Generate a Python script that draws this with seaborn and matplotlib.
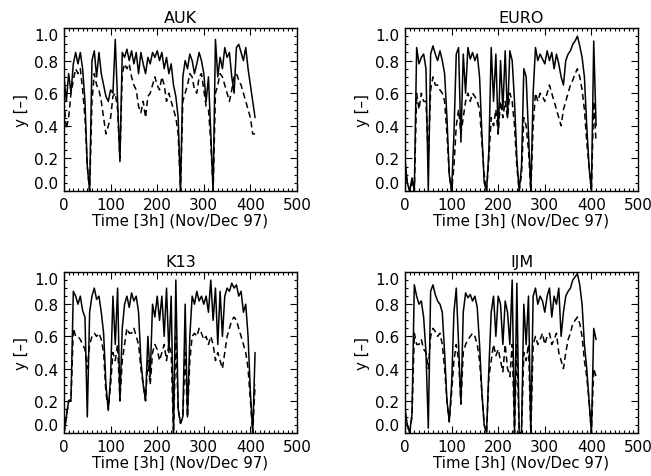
import numpy as np
import matplotlib
matplotlib.use("Agg")
import matplotlib.pyplot as plt
from matplotlib.ticker import MultipleLocator, FixedLocator
import seaborn as sns

# 3-hourly time index, Nov/Dec 1997
time_3h = np.arange(0, 411, 5)

stations = ["AUK", "EURO", "K13", "IJM"]

auk_solid = [0.70, 0.55, 0.72, 0.60, 0.78, 0.85, 0.78, 0.85, 0.75, 0.55,
             0.15, 0.0, 0.80, 0.86, 0.70, 0.85, 0.72, 0.65, 0.58, 0.55,
             0.62, 0.60, 0.93, 0.55, 0.18, 0.85, 0.82, 0.87, 0.80, 0.86,
             0.78, 0.85, 0.72, 0.85, 0.78, 0.72, 0.82, 0.78, 0.85, 0.82,
             0.86, 0.80, 0.85, 0.75, 0.82, 0.72, 0.78, 0.65, 0.58, 0.45,
             0.0, 0.70, 0.80, 0.75, 0.84, 0.80, 0.72, 0.78, 0.85, 0.80,
             0.72, 0.55, 0.70, 0.35, 0.0, 0.93, 0.70, 0.82, 0.75, 0.88,
             0.82, 0.85, 0.70, 0.60, 0.88, 0.90, 0.85, 0.80, 0.88, 0.75,
             0.65, 0.55, 0.45]
auk_dashed = [0.55, 0.38, 0.45, 0.60, 0.68, 0.75, 0.72, 0.75, 0.62, 0.45,
              0.15, 0.0, 0.55, 0.72, 0.65, 0.62, 0.55, 0.45, 0.35, 0.40,
              0.45, 0.58, 0.60, 0.50, 0.20, 0.72, 0.78, 0.75, 0.78, 0.70,
              0.65, 0.62, 0.52, 0.48, 0.55, 0.45, 0.58, 0.60, 0.65, 0.70,
              0.65, 0.62, 0.70, 0.65, 0.55, 0.60, 0.55, 0.50, 0.45, 0.35,
              0.0, 0.55, 0.60, 0.65, 0.72, 0.70, 0.62, 0.60, 0.70, 0.72,
              0.62, 0.52, 0.50, 0.30, 0.0, 0.60, 0.65, 0.72, 0.70, 0.65,
              0.60, 0.55, 0.62, 0.70, 0.72, 0.68, 0.65, 0.60, 0.55, 0.50,
              0.45, 0.35, 0.35]

euro_solid = [0.20, 0.05, 0.0, 0.08, 0.0, 0.88, 0.78, 0.82, 0.84, 0.75,
              0.0, 0.84, 0.89, 0.84, 0.80, 0.86, 0.80, 0.72, 0.45, 0.10,
              0.0, 0.35, 0.84, 0.88, 0.30, 0.84, 0.60, 0.88, 0.81, 0.85,
              0.80, 0.84, 0.70, 0.35, 0.05, 0.0, 0.25, 0.88, 0.55, 0.84,
              0.35, 0.80, 0.50, 0.86, 0.45, 0.86, 0.80, 0.55, 0.20, 0.0,
              0.15, 0.75, 0.70, 0.35, 0.0, 0.60, 0.88, 0.80, 0.84, 0.81,
              0.78, 0.86, 0.80, 0.85, 0.75, 0.84, 0.78, 0.70, 0.65, 0.80,
              0.84, 0.86, 0.90, 0.92, 0.95, 0.89, 0.82, 0.70, 0.40, 0.15,
              0.0, 0.92, 0.40]
euro_dashed = [0.15, 0.05, 0.0, 0.05, 0.0, 0.60, 0.50, 0.60, 0.55, 0.55,
               0.20, 0.62, 0.70, 0.65, 0.65, 0.62, 0.60, 0.55, 0.35, 0.10,
               0.0, 0.15, 0.40, 0.50, 0.35, 0.45, 0.55, 0.60, 0.55, 0.60,
               0.58, 0.55, 0.50, 0.30, 0.10, 0.0, 0.20, 0.45, 0.40, 0.50,
               0.35, 0.55, 0.45, 0.55, 0.45, 0.60, 0.55, 0.40, 0.15, 0.0,
               0.10, 0.45, 0.40, 0.25, 0.0, 0.40, 0.60, 0.55, 0.60, 0.58,
               0.55, 0.60, 0.65, 0.60, 0.55, 0.50, 0.45, 0.40, 0.50, 0.55,
               0.60, 0.65, 0.68, 0.72, 0.75, 0.70, 0.62, 0.50, 0.30, 0.15,
               0.0, 0.55, 0.30]

k13_solid = [0.0, 0.10, 0.20, 0.21, 0.88, 0.85, 0.80, 0.85, 0.76, 0.72,
             0.10, 0.75, 0.85, 0.90, 0.83, 0.85, 0.75, 0.62, 0.30, 0.14,
             0.35, 0.85, 0.55, 0.90, 0.20, 0.65, 0.80, 0.85, 0.78, 0.87,
             0.82, 0.85, 0.75, 0.45, 0.30, 0.20, 0.60, 0.35, 0.80, 0.72,
             0.85, 0.70, 0.85, 0.60, 0.90, 0.50, 0.85, 0.0, 0.95, 0.15,
             0.06, 0.10, 0.80, 0.10, 0.60, 0.85, 0.80, 0.88, 0.82, 0.85,
             0.80, 0.85, 0.75, 0.95, 0.70, 0.90, 0.55, 0.88, 0.60, 0.85,
             0.90, 0.88, 0.93, 0.90, 0.92, 0.85, 0.88, 0.75, 0.80, 0.60,
             0.25, 0.0, 0.50]
k13_dashed = [0.0, 0.10, 0.20, 0.20, 0.65, 0.60, 0.60, 0.58, 0.55, 0.52,
              0.40, 0.55, 0.60, 0.62, 0.60, 0.62, 0.58, 0.50, 0.25, 0.15,
              0.30, 0.50, 0.45, 0.55, 0.20, 0.45, 0.55, 0.65, 0.62, 0.62,
              0.65, 0.60, 0.55, 0.40, 0.30, 0.20, 0.45, 0.30, 0.50, 0.55,
              0.52, 0.45, 0.50, 0.55, 0.45, 0.55, 0.50, 0.0, 0.60, 0.15,
              0.06, 0.10, 0.50, 0.10, 0.45, 0.60, 0.62, 0.60, 0.65, 0.62,
              0.58, 0.60, 0.55, 0.60, 0.55, 0.45, 0.50, 0.45, 0.40, 0.50,
              0.60, 0.65, 0.70, 0.72, 0.70, 0.65, 0.60, 0.55, 0.50, 0.40,
              0.20, 0.0, 0.30]

ijm_solid = [0.15, 0.05, 0.0, 0.12, 0.92, 0.85, 0.80, 0.82, 0.72, 0.50,
             0.03, 0.88, 0.92, 0.86, 0.82, 0.80, 0.75, 0.50, 0.20, 0.07,
             0.30, 0.75, 0.90, 0.55, 0.18, 0.75, 0.87, 0.84, 0.86, 0.82,
             0.85, 0.78, 0.55, 0.25, 0.05, 0.0, 0.40, 0.75, 0.85, 0.60,
             0.85, 0.80, 0.55, 0.82, 0.75, 0.55, 0.95, 0.0, 0.93, 0.0,
             0.0, 0.80, 0.55, 0.85, 0.0, 0.85, 0.90, 0.80, 0.85, 0.82,
             0.75, 0.85, 0.90, 0.72, 0.85, 0.80, 0.90, 0.60, 0.75, 0.85,
             0.88, 0.90, 0.95, 0.97, 0.99, 0.92, 0.80, 0.55, 0.40, 0.20,
             0.0, 0.65, 0.58]
ijm_dashed = [0.12, 0.05, 0.0, 0.10, 0.62, 0.55, 0.55, 0.58, 0.52, 0.50,
              0.40, 0.60, 0.65, 0.63, 0.60, 0.62, 0.55, 0.40, 0.20, 0.07,
              0.25, 0.45, 0.55, 0.45, 0.18, 0.50, 0.55, 0.58, 0.60, 0.62,
              0.60, 0.55, 0.45, 0.25, 0.05, 0.0, 0.35, 0.45, 0.55, 0.48,
              0.52, 0.45, 0.38, 0.55, 0.40, 0.35, 0.55, 0.0, 0.55, 0.0,
              0.0, 0.50, 0.45, 0.55, 0.0, 0.55, 0.60, 0.55, 0.58, 0.62,
              0.55, 0.60, 0.62, 0.55, 0.58, 0.62, 0.50, 0.45, 0.40, 0.50,
              0.58, 0.62, 0.68, 0.70, 0.72, 0.68, 0.60, 0.45, 0.35, 0.20,
              0.0, 0.40, 0.35]

x_ticks = [0, 100, 200, 300, 400, 500]
y_ticks = [0.0, 0.2, 0.4, 0.6, 0.8, 1.0]
x_label = "Time [3h] (Nov/Dec 97)"
y_label = "y [–]"

series = {
    "AUK": (auk_solid, auk_dashed),
    "EURO": (euro_solid, euro_dashed),
    "K13": (k13_solid, k13_dashed),
    "IJM": (ijm_solid, ijm_dashed),
}

sns.set_style("ticks")
plt.rcParams["font.family"] = ["DejaVu Sans"]
plt.rcParams["font.size"] = 11
plt.rcParams["text.color"] = "black"
plt.rcParams["axes.labelcolor"] = "black"

W, H = 651, 477
fig = plt.figure(figsize=(W / 100, H / 100), dpi=100)

# panel boxes in pixels: left, top, right, bottom
boxes = {
    "AUK": (64, 29, 297, 192),
    "EURO": (405, 29, 638, 192),
    "K13": (64, 273, 297, 434),
    "IJM": (405, 273, 638, 434),
}

for name in stations:
    l, t, r, b = boxes[name]
    ax = fig.add_axes([l / W, 1 - b / H, (r - l) / W, (b - t) / H])
    solid, dashed = series[name]
    sns.lineplot(x=time_3h, y=solid, ax=ax, color="black", lw=1.1,
                 errorbar=None, sort=False)
    sns.lineplot(x=time_3h, y=dashed, ax=ax, color="black", lw=1.1,
                 linestyle=(0, (4, 2.5)), errorbar=None, sort=False)
    ax.set_xlim(0, 500)
    ax.set_ylim(0, 1)
    ax.xaxis.set_major_locator(FixedLocator(x_ticks))
    ax.yaxis.set_major_locator(FixedLocator(y_ticks))
    ax.set_xticklabels([str(v) for v in x_ticks])
    ax.set_yticklabels([f"{v:.1f}" for v in y_ticks])
    ax.xaxis.set_minor_locator(MultipleLocator(10))
    ax.yaxis.set_minor_locator(MultipleLocator(0.05))
    ax.tick_params(which="both", direction="in", top=True, right=True,
                   colors="black", labelcolor="black", labelsize=11, width=0.8)
    ax.tick_params(which="major", length=5, pad=4)
    ax.tick_params(which="minor", length=2.2)
    for sp in ax.spines.values():
        sp.set_linewidth(1.0)
        sp.set_color("black")
    ylabels = ax.get_yticklabels()
    ylabels[0].set_va("bottom")
    ylabels[-1].set_va("top")
    ax.set_title(name, fontsize=11.5, pad=4, color="black")
    ax.set_xlabel(x_label, fontsize=10.8, labelpad=1)
    ax.set_ylabel(y_label, fontsize=10.8, labelpad=4)

fig.savefig("out.png", dpi=100, facecolor="white")
